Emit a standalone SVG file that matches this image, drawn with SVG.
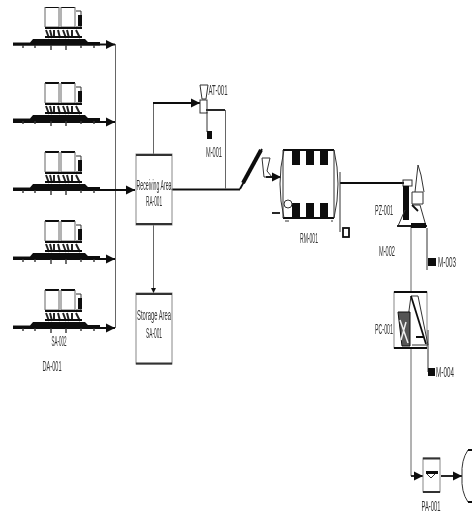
<svg xmlns="http://www.w3.org/2000/svg" width="472" height="519" viewBox="0 0 472 519">
<style>
text{font-family:"Liberation Sans",Arial,sans-serif;font-size:14px;fill:#333;text-anchor:middle}
.l{fill:none;stroke:#333;stroke-width:1}
.t{fill:none;stroke:#111;stroke-width:1.8}
.g{fill:none;stroke:#666;stroke-width:1}
.b{fill:#111;stroke:none}
.box{fill:#fff;stroke:#888;stroke-width:1}
.bar{stroke:#333;stroke-width:2;fill:none}
</style>
<defs>
<filter id="soft" x="0" y="0" width="100%" height="100%"><feGaussianBlur stdDeviation="0.4"/></filter>
<marker id="a" markerWidth="6" markerHeight="6" refX="5" refY="3" orient="auto"><path d="M0 .5L5 3L0 5.500z" fill="#111"/></marker>
<g id="truck">
<path class="t" d="M45 0H59M61 0H75"/>
<path class="g" d="M45 0V20H59V0M61 0V20H75V0"/>
<path class="l" d="M76 4H81V20H76"/>
<path class="b" d="M78 8H82V19H78z"/>
<path class="b" d="M45 20H82V22H45z"/>
<path d="M46 23L49 31M50 23L52 31M54 23V31M58 23L60 31M63 23L66 31M67 23L69 31M72 23V31M76 23L80 31" stroke="#222" stroke-width="2" fill="none"/>
<path class="b" d="M45 29H82V31H45zM33 32H85L88 35H100V38.500H13V35.500H30z"/>
<path d="M23 38V41M35 38V41M51 38V43M66 38V43M81 38V41M94 38V41" stroke="#333" stroke-width="1.400"/>
</g>
</defs>
<g filter="url(#soft)">
<g id="connectors">
<path class="g" d="M115.500 44V328"/>
<path class="t" d="M13 44.500H115" marker-end="url(#a)"/>
<path class="t" d="M13 122H115" marker-end="url(#a)"/>
<path class="t" d="M13 190H135" marker-end="url(#a)"/>
<path class="t" d="M13 259H115" marker-end="url(#a)"/>
<path class="t" d="M13 328H115" marker-end="url(#a)"/>
<path class="g" d="M153.500 154V103"/>
<path class="t" d="M153 103H200" marker-end="url(#a)"/>
<path class="g" d="M153.500 225V293" marker-end="url(#a)"/>
<path class="t" d="M172 189.500H240"/>
<path class="t" d="M206 110H225"/>
<path class="g" d="M225.500 110V189"/>
<path class="l" d="M207 112V132"/>
<path class="t" d="M340 183H404"/>
<path class="l" d="M340 172V232"/>
<path class="g" d="M411 226V476"/>
<path class="l" d="M427 228V270"/>
<path class="l" d="M428 330V372"/>
<path class="t" d="M411 476H423" marker-end="url(#a)"/>
<path class="t" d="M441 476H462" marker-end="url(#a)"/>
</g>
<g id="trucks">
<use href="#truck" x="0" y="7"/>
<use href="#truck" x="0" y="83"/>
<use href="#truck" x="0" y="152"/>
<use href="#truck" x="0" y="221"/>
<use href="#truck" x="0" y="290"/>
</g>
<text x="59" y="346" textLength="15" lengthAdjust="spacingAndGlyphs">SA-002</text>
<text x="52" y="371" textLength="19" lengthAdjust="spacingAndGlyphs">DA-001</text>
<g id="receiving">
<rect class="box" x="136" y="154" width="36" height="71"/>
<path class="bar" d="M136 155H172M136 224H172"/>
<text x="154" y="190" textLength="35" lengthAdjust="spacingAndGlyphs">Receiving Area</text>
<text x="154" y="206" textLength="16" lengthAdjust="spacingAndGlyphs">RA-001</text>
</g>
<g id="storage">
<rect class="box" x="136" y="293" width="36" height="71"/>
<path class="bar" d="M136 294H172M136 363.500H172"/>
<text x="154" y="320" textLength="34" lengthAdjust="spacingAndGlyphs">Storage Area</text>
<text x="154" y="338" textLength="16" lengthAdjust="spacingAndGlyphs">SA-001</text>
</g>
<g id="at001">
<path class="l" d="M200 85H208L206 99H202z"/>
<rect class="l" x="200" y="100" width="7" height="13"/>
<path class="b" d="M207 131H212V139H207z"/>
<text x="218" y="95" textLength="19" lengthAdjust="spacingAndGlyphs">AT-001</text>
<text x="214" y="157" textLength="16" lengthAdjust="spacingAndGlyphs">M-001</text>
</g>
<g id="conveyor">
<path class="t" d="M240 189L262 149"/>
<path d="M243 183L261 150" stroke="#111" stroke-width="4"/>
<path class="l" d="M262 158H270L267 171L272 177H264z"/>
<path class="t" d="M266 177H281" marker-end="url(#a)"/>
</g>
<g id="vessel">
<path class="l" d="M284 150H334Q342 184 334 218H284Q276 184 284 150z"/>
<path class="t" d="M283 150H334M283 218H334"/>
<path class="l" d="M283 150V218M334 150V218"/>
<path class="b" d="M292 151H300V165H292zM306 151H314V165H306zM320 151H328V165H320zM292 203H300V218H292zM306 203H314V218H306zM320 203H328V218H320z"/>
<circle class="l" cx="288" cy="204" r="4"/>
<path class="l" d="M285 221H289M331 221H333"/>
<path class="t" d="M272 213H280" stroke-width="1.500"/>
<text x="309" y="243" textLength="18" lengthAdjust="spacingAndGlyphs">RM-001</text>
<rect class="t" x="343" y="228" width="6" height="9"/>
</g>
<g id="pz001">
<rect class="l" x="403" y="180" width="9" height="6"/>
<path class="b" d="M403 186H409V220H403z"/>
<path class="l" d="M398 226L405 210M398 226H426L420 205H412"/>
<path class="t" d="M397 226H427"/>
<path class="l" d="M412 192H423V204H412zM415 192L418 165L421 175L424 192"/>
<path class="t" d="M412 205L418 211"/>
<path class="b" d="M411 223H426V228H411z"/>
<text x="384" y="215" textLength="18" lengthAdjust="spacingAndGlyphs">PZ-001</text>
<text x="387" y="256" textLength="16" lengthAdjust="spacingAndGlyphs">M-002</text>
<path class="b" d="M428 258H436V266H428z"/>
<text transform="translate(447 267) scale(.45 1)">M-003</text>
</g>
<g id="pc001">
<rect class="box" x="394" y="292" width="33" height="56"/>
<path class="t" d="M394 292H427M394 348H427"/>
<path class="l" d="M408 318L411 296L418 296L428 345H412"/>
<path class="t" d="M411 296L426 344M416 337H424"/>
<path d="M398 312H410V346H402z" fill="#555" stroke="#111"/>
<path d="M400 320L408 343M406 322L401 340" stroke="#eee" stroke-width="1.500"/>
<text x="384" y="334" textLength="18" lengthAdjust="spacingAndGlyphs">PC-001</text>
<path class="b" d="M428 368H435V376H428z"/>
<text transform="translate(445 377) scale(.45 1)">M-004</text>
</g>
<g id="pa001">
<rect class="box" x="423" y="458" width="17" height="34"/>
<path class="bar" d="M423 458.500H440M423 492H440"/>
<path class="b" d="M426 471H438V474H426z"/>
<path class="l" d="M427 474L431 478L435 474"/>
<text x="431" y="511" textLength="19" lengthAdjust="spacingAndGlyphs">PA-001</text>
<path class="l" d="M472 450H468Q461 460 462 476Q461 492 468 502H472"/>
<path class="t" d="M468 450H472M468 502H472"/>
</g>
</g>
</svg>
